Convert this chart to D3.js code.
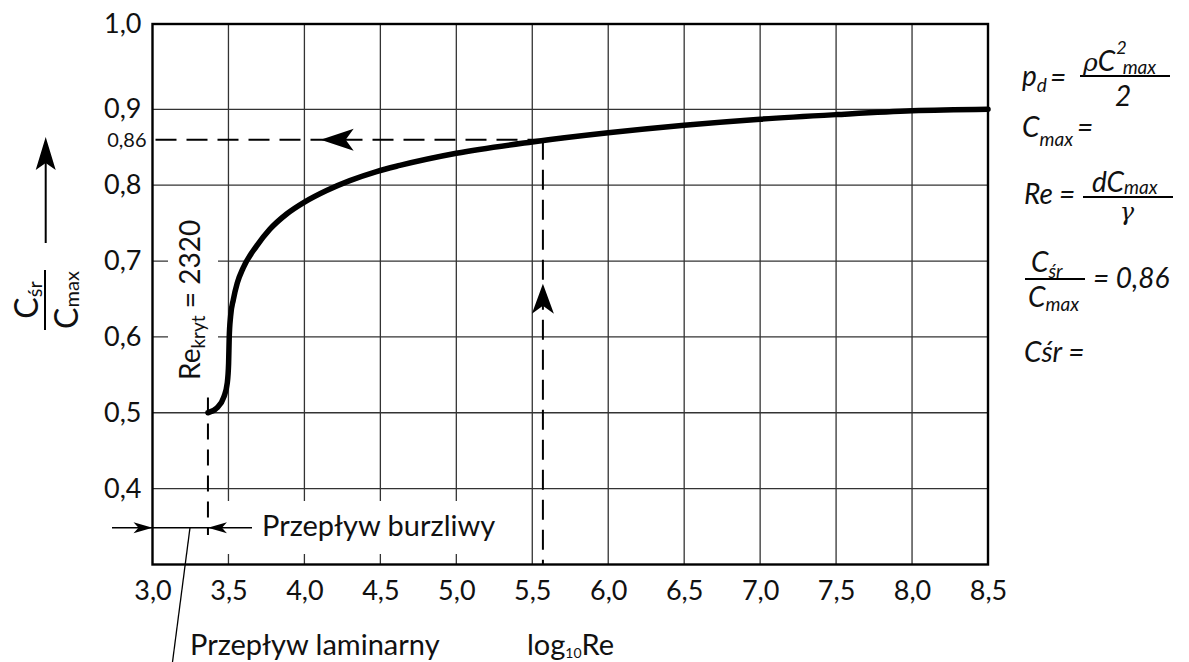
<!DOCTYPE html>
<html>
<head>
<meta charset="utf-8">
<script src="https://cdn.jsdelivr.net/npm/d3@7"></script>
<style>
  html, body { margin: 0; padding: 0; background: #fff; }
  svg { display: block; font-family: Lato, "Open Sans", sans-serif; }
</style>
</head>
<body>
<svg id="chart" width="1189" height="662"></svg>
<script>
// ---- data ----
const xTicks = [3.0, 3.5, 4.0, 4.5, 5.0, 5.5, 6.0, 6.5, 7.0, 7.5, 8.0, 8.5];
const yTicks = [0.4, 0.5, 0.6, 0.7, 0.8, 0.9, 1.0];
const gridX = [3.5, 4.0, 4.5, 5.0, 5.5, 6.0, 6.5, 7.0, 7.5, 8.0];
const gridY = [0.4, 0.5, 0.6, 0.7, 0.8, 0.9];
const curveLogRe = [3.365, 3.422, 3.470, 3.492, 3.501, 3.505, 3.514, 3.532, 3.558, 3.597, 3.686, 3.773, 3.883, 4.003, 4.146, 4.299, 4.475, 4.628, 5.0, 5.5, 6.0, 6.5, 7.0, 7.5, 8.0, 8.5];
const curveRatio = [0.500, 0.506, 0.521, 0.539, 0.565, 0.599, 0.627, 0.649, 0.671, 0.691, 0.720, 0.742, 0.762, 0.778, 0.793, 0.806, 0.818, 0.826, 0.842, 0.857, 0.869, 0.879, 0.887, 0.893, 0.898, 0.900];
const reKrytLog = 3.365;      // log10(2320)
const readLogRe = 5.57;
const readRatio = 0.86;
const hArrowTipX = 4.107;
const vArrowTipY = 0.670;
const bracketY = 0.3485;
const critDashEndY = 0.339;

// ---- scales ----
const svg = d3.select("#chart");
const x = d3.scaleLinear().domain([3.0, 8.5]).range([152.5, 988]);
const y = d3.scaleLinear().domain([0.3, 0.9, 1.0]).range([564.5, 109.3, 24]);
const fmt = v => d3.format(".1f")(v).replace(".", ",");

// grid
svg.append("g").selectAll("line").data(gridX).join("line")
  .attr("x1", d => x(d)).attr("x2", d => x(d))
  .attr("y1", y(1.0)).attr("y2", y(0.3))
  .attr("stroke", "#333").attr("stroke-width", 1.3);
svg.append("g").selectAll("line").data(gridY).join("line")
  .attr("x1", x(3.0)).attr("x2", x(8.5))
  .attr("y1", d => y(d)).attr("y2", d => y(d))
  .attr("stroke", "#333").attr("stroke-width", 1.3);

// white label backgrounds (gaps in grid)
svg.append("rect").attr("x", 168).attr("y", 205).attr("width", 50).attr("height", 190).attr("fill", "#fff");
svg.append("rect").attr("x", 212).attr("y", 501).attr("width", 295).attr("height", 53).attr("fill", "#fff");

// frame
svg.append("rect")
  .attr("x", x(3.0)).attr("y", y(1.0))
  .attr("width", x(8.5) - x(3.0)).attr("height", y(0.3) - y(1.0))
  .attr("fill", "none").attr("stroke", "#000").attr("stroke-width", 2.4);

// axes (labels only)
const xAxis = svg.append("g").attr("transform", `translate(0,${y(0.3)})`)
  .call(d3.axisBottom(x).tickValues(xTicks).tickFormat(fmt).tickSize(0).tickPadding(16));
xAxis.select(".domain").remove();
xAxis.selectAll("text").attr("font-size", 27).attr("fill", "#111").attr("font-family", "Lato");

const yAxis = svg.append("g").attr("transform", `translate(${x(3.0)},0)`)
  .call(d3.axisLeft(y).tickValues(yTicks).tickFormat(fmt).tickSize(0).tickPadding(11));
yAxis.select(".domain").remove();
yAxis.selectAll("text").attr("font-size", 27).attr("fill", "#111").attr("font-family", "Lato");

svg.append("text").attr("x", x(3.0) - 6).attr("y", y(readRatio)).attr("dy", "0.35em")
  .attr("text-anchor", "end").attr("font-size", 20).attr("fill", "#111").text("0,86");

// dashed reading lines
svg.append("line").attr("x1", x(3.0) + 3).attr("x2", x(readLogRe))
  .attr("y1", y(readRatio)).attr("y2", y(readRatio))
  .attr("stroke", "#000").attr("stroke-width", 2).attr("stroke-dasharray", "21,10");
svg.append("line").attr("x1", x(readLogRe)).attr("x2", x(readLogRe))
  .attr("y1", y(readRatio)).attr("y2", y(0.3))
  .attr("stroke", "#000").attr("stroke-width", 2).attr("stroke-dasharray", "20,10");
svg.append("line").attr("x1", x(reKrytLog)).attr("x2", x(reKrytLog))
  .attr("y1", y(0.52)).attr("y2", y(critDashEndY))
  .attr("stroke", "#000").attr("stroke-width", 2).attr("stroke-dasharray", "16,10");

// arrowheads
function arrowHead(tx, ty, dir, len, half, notch) {
  const a = dir * Math.PI / 180;
  const ux = Math.cos(a), uy = Math.sin(a);
  const px = -uy, py = ux;
  const bx = tx - ux * len, by = ty - uy * len;
  const nx = tx - ux * (len - notch), ny = ty - uy * (len - notch);
  return `M${tx},${ty}L${bx + px * half},${by + py * half}L${nx},${ny}L${bx - px * half},${by - py * half}Z`;
}
svg.append("path").attr("d", arrowHead(x(hArrowTipX), y(readRatio), 180, 33, 11, 8)).attr("fill", "#000");
svg.append("path").attr("d", arrowHead(x(readLogRe), y(vArrowTipY), -90, 30, 11, 8)).attr("fill", "#000");

// main curve
const pts = curveLogRe.map((d, i) => [d, curveRatio[i]]);
svg.append("path").datum(pts)
  .attr("d", d3.line().x(d => x(d[0])).y(d => y(d[1])).curve(d3.curveMonotoneX))
  .attr("fill", "none").attr("stroke", "#000").attr("stroke-width", 5.5).attr("stroke-linecap", "round")
  .attr("stroke-linejoin", "round");

// laminar / turbulent bracket
const by = y(bracketY);
svg.append("line").attr("x1", 112).attr("x2", 252).attr("y1", by).attr("y2", by)
  .attr("stroke", "#000").attr("stroke-width", 1.5);
svg.append("path").attr("d", arrowHead(x(3.0), by, 0, 19, 5.5, 5)).attr("fill", "#000");
svg.append("path").attr("d", arrowHead(x(reKrytLog), by, 180, 19, 5.5, 5)).attr("fill", "#000");
svg.append("line").attr("x1", 190).attr("y1", by).attr("x2", 172.5).attr("y2", 662)
  .attr("stroke", "#000").attr("stroke-width", 1.3);

svg.append("text").attr("x", 262).attr("y", 536).attr("font-size", 29).attr("fill", "#111")
  .text("Przepływ burzliwy");
svg.append("text").attr("x", 190).attr("y", 655).attr("font-size", 29).attr("fill", "#111")
  .text("Przepływ laminarny");

// x-axis title
const xt = svg.append("text").attr("x", 527).attr("y", 655).attr("font-size", 29).attr("fill", "#111");
xt.append("tspan").text("log");
xt.append("tspan").attr("font-size", 14).attr("dy", 3).text("10");
xt.append("tspan").attr("dy", -3).text("Re");

// Re_kryt label (rotated)
const rk = svg.append("text").attr("transform", "translate(200,380) rotate(-90)")
  .attr("font-size", 28).attr("fill", "#111");
rk.append("tspan").text("Re");
rk.append("tspan").attr("font-size", 19).attr("dy", 5).text("kryt");
rk.append("tspan").attr("dy", -5).text(" = 2320");

// y-axis title: fraction rotated + arrow
const yl = svg.append("g").attr("transform", "translate(45,300) rotate(-90)");
const num = yl.append("text").attr("x", 0).attr("y", -7).attr("text-anchor", "middle")
  .attr("font-size", 32).attr("fill", "#111");
num.append("tspan").text("C");
num.append("tspan").attr("font-size", 20).attr("dy", 4).text("śr");
yl.append("line").attr("x1", -30).attr("x2", 30).attr("y1", 0).attr("y2", 0)
  .attr("stroke", "#000").attr("stroke-width", 2);
const den = yl.append("text").attr("x", 0).attr("y", 33).attr("text-anchor", "middle")
  .attr("font-size", 32).attr("fill", "#111");
den.append("tspan").text("C");
den.append("tspan").attr("font-size", 20).attr("dy", 1).text("max");

svg.append("line").attr("x1", 45.7).attr("x2", 45.7).attr("y1", 243).attr("y2", 160)
  .attr("stroke", "#000").attr("stroke-width", 2);
svg.append("path").attr("d", arrowHead(45.7, 137, -90, 33, 10, 7)).attr("fill", "#000");

// right-side formulas
const F = svg.append("g").attr("font-style", "italic").attr("fill", "#111").attr("font-size", 28);
function ftext(xp, yp, parts, anchor) {
  const t = F.append("text").attr("x", xp).attr("y", yp);
  if (anchor) t.attr("text-anchor", anchor);
  let cur = 0;
  parts.forEach(p => {
    const s = t.append("tspan").text(p.t);
    if (p.fs) s.attr("font-size", p.fs);
    const dy = (p.dy || 0) - cur;
    if (dy) s.attr("dy", dy);
    cur = p.dy || 0;
  });
  return t;
}
function fline(x1, x2, yp) {
  F.append("line").attr("x1", x1).attr("x2", x2).attr("y1", yp).attr("y2", yp)
    .attr("stroke", "#000").attr("stroke-width", 1.8);
}
// p_d = rho C^2max / 2
ftext(1022, 86, [{t: "p"}, {t: "d", fs: 19, dy: 6}]);
ftext(1050, 87, [{t: "="}]);
fline(1080, 1170, 76);
const n1 = F.append("text").attr("x", 1083).attr("y", 71);
n1.append("tspan").attr("font-family", "DejaVu Serif").attr("font-size", 25).text("ρ");
n1.append("tspan").text("C");
n1.append("tspan").attr("font-size", 18).attr("dy", -17).attr("dx", 1).text("2");
n1.append("tspan").attr("font-size", 19).attr("dx", -4).attr("dy", 20).text("max");
ftext(1123, 106, [{t: "2"}], "middle");
// C_max =
ftext(1022, 137, [{t: "C"}, {t: "max", fs: 19, dy: 9}]);
ftext(1077, 137, [{t: "="}]);
// Re = dC_max / gamma
ftext(1024, 204, [{t: "Re"}]);
ftext(1059, 204, [{t: "="}]);
fline(1083, 1173, 197);
ftext(1092, 192, [{t: "dC"}, {t: "max", fs: 19, dy: 2}]);
F.append("text").attr("x", 1127).attr("y", 220).attr("text-anchor", "middle")
  .attr("font-family", "DejaVu Serif").attr("font-size", 24).text("γ");
// C_sr / C_max = 0,86
fline(1025, 1085, 279);
ftext(1031, 272, [{t: "C"}, {t: "śr", fs: 19, dy: 6}]);
ftext(1028, 307, [{t: "C"}, {t: "max", fs: 19, dy: 4}]);
ftext(1093, 288, [{t: "= 0,86"}]);
// Csr =
ftext(1024, 362, [{t: "Cśr ="}]);
</script>
</body>
</html>
